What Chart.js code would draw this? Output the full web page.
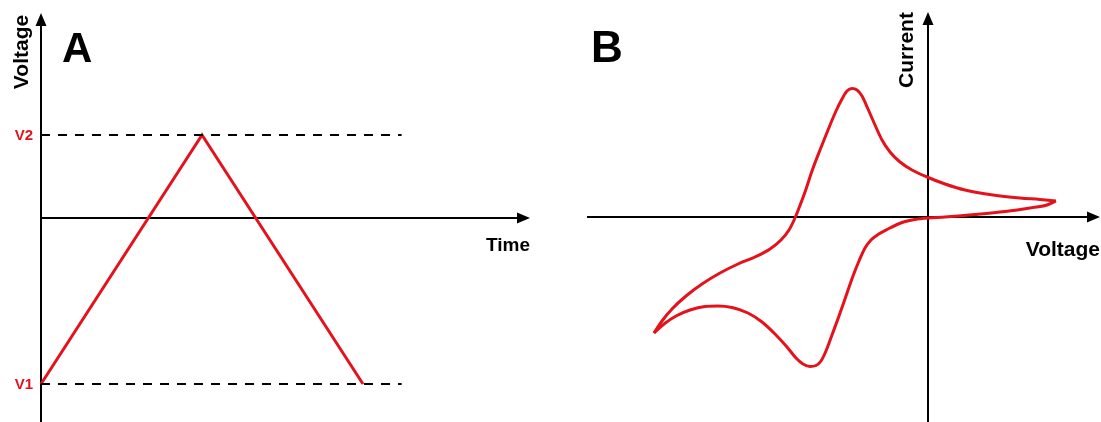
<!DOCTYPE html>
<html>
<head>
<meta charset="utf-8">
<script src="https://cdn.jsdelivr.net/npm/chart.js@4.4.1/dist/chart.umd.min.js"></script>
<style>
  html,body{margin:0;padding:0;background:#fff;}
  #wrap{position:relative;width:1101px;height:422px;overflow:hidden;background:#fff;}
  canvas{position:absolute;top:0;}
  #c-a{left:0;}
  #c-b{left:550px;}
</style>
</head>
<body>
<div id="wrap">
  <canvas id="c-a" width="550" height="422"></canvas>
  <canvas id="c-b" width="551" height="422"></canvas>
</div>
<script>
// panel A: triangular potential sweep
const sweepTime=[0,1,2];
const sweepVolt=[-1,0.5,-1];
const levelNames=['V1','V2'];
const levelVolt=[-1,0.5];
const levelEnd=2.24;

// panel B: cyclic voltammogram, upper (right-to-left) and lower (left-to-right) branches
const upperV=[1.28,1.12,0.92,0.65,0.37,0.17,-0.01,-0.16,-0.28,-0.38,-0.46,-0.53,-0.60,-0.66,-0.71,-0.76,-0.81,-0.86,-0.92,-1.00,-1.08,-1.16,-1.23,-1.29,-1.33,-1.39,-1.47,-1.58,-1.73,-1.90,-2.08,-2.26,-2.42,-2.56,-2.66,-2.74];
const upperI=[0.16,0.175,0.19,0.22,0.27,0.33,0.40,0.47,0.55,0.65,0.77,0.92,1.08,1.21,1.27,1.285,1.26,1.18,1.06,0.87,0.67,0.46,0.25,0.09,-0.01,-0.13,-0.23,-0.32,-0.40,-0.47,-0.56,-0.67,-0.79,-0.92,-1.04,-1.16];
const lowerV=[-2.74,-2.64,-2.52,-2.38,-2.23,-2.10,-1.96,-1.80,-1.66,-1.53,-1.41,-1.32,-1.25,-1.18,-1.12,-1.07,-1.02,-0.96,-0.89,-0.82,-0.75,-0.69,-0.63,-0.57,-0.50,-0.41,-0.26,-0.13,0.00,0.17,0.47,0.77,1.02,1.19,1.28];
const lowerI=[-1.16,-1.07,-0.99,-0.93,-0.895,-0.89,-0.905,-0.96,-1.05,-1.17,-1.30,-1.41,-1.47,-1.495,-1.485,-1.44,-1.34,-1.18,-0.99,-0.79,-0.59,-0.44,-0.31,-0.23,-0.175,-0.125,-0.055,-0.025,-0.01,0.00,0.025,0.055,0.09,0.12,0.16];

const RED='#e3121b';
const FONT='Arial, "Liberation Sans", sans-serif';
const pts=(xs,ys)=>xs.map((v,i)=>({x:v,y:ys[i]}));

// black axes through zero with filled arrowheads
const axesPlugin={
  id:'axes',
  beforeDatasetsDraw(chart,args,o){
    const {ctx,scales:{x,y},chartArea}=chart;
    const x0=x.getPixelForValue(0), y0=y.getPixelForValue(0);
    const xL=x.getPixelForValue(o.xFrom), xT=x.getPixelForValue(o.xTip), yT=y.getPixelForValue(o.yTip);
    ctx.save();
    ctx.strokeStyle='#000'; ctx.fillStyle='#000'; ctx.lineWidth=2;
    ctx.beginPath();
    ctx.moveTo(xL,y0); ctx.lineTo(xT-8,y0);
    ctx.moveTo(x0,chartArea.bottom); ctx.lineTo(x0,yT+8);
    ctx.stroke();
    ctx.beginPath();
    ctx.moveTo(xT,y0); ctx.lineTo(xT-13,y0-5.5); ctx.lineTo(xT-13,y0+5.5); ctx.closePath();
    ctx.moveTo(x0,yT); ctx.lineTo(x0-5.5,yT+13); ctx.lineTo(x0+5.5,yT+13); ctx.closePath();
    ctx.fill();
    ctx.restore();
  }
};

// panel letters, axis names and level tags
const textPlugin={
  id:'texts',
  afterDraw(chart,args,o){
    const {ctx,scales:{x,y}}=chart;
    const x0=x.getPixelForValue(0);
    ctx.save();
    ctx.fillStyle='#000';
    ctx.font=`bold ${o.letterSize}px ${FONT}`; ctx.textAlign='left'; ctx.textBaseline='alphabetic';
    ctx.fillText(o.letter,x0+o.letterDx,62);
    ctx.font=`bold ${o.xNameSize}px ${FONT}`;
    ctx.textAlign='right';
    ctx.fillText(o.xName,o.xNameRight,o.xNameBase);
    ctx.font=`bold 21px ${FONT}`;
    ctx.save();
    ctx.translate(x0+o.yNameDx,o.yNameMid); ctx.rotate(-Math.PI/2);
    ctx.textAlign='center'; ctx.fillText(o.yName,0,0);
    ctx.restore();
    (o.levels||[]).forEach(l=>{
      ctx.fillStyle=RED; ctx.font=`bold 15px ${FONT}`;
      ctx.textAlign='right'; ctx.textBaseline='middle';
      ctx.fillText(l.name,x0-8,y.getPixelForValue(l.v)+1);
    });
    ctx.restore();
  }
};

const baseOpts={
  responsive:false,
  animation:false,
  events:[],
  layout:{padding:0},
  plugins:{legend:{display:false},tooltip:{enabled:false}},
  elements:{point:{radius:0}}
};

new Chart(document.getElementById('c-a'),{
  type:'scatter',
  data:{
    datasets:[
      ...levelVolt.map(v=>({
        data:[{x:0,y:v},{x:levelEnd,y:v}],
        showLine:true, borderColor:'#000', borderWidth:2, borderDash:[9,8], pointRadius:0
      })),
      {data:pts(sweepTime,sweepVolt),showLine:true,borderColor:RED,borderWidth:3,pointRadius:0}
    ]
  },
  options:{
    ...baseOpts,
    scales:{
      x:{type:'linear',display:false,min:-41/161,max:509/161},
      y:{type:'linear',display:false,min:-204/166,max:218/166}
    },
    plugins:{
      ...baseOpts.plugins,
      axes:{xFrom:0,xTip:489/161,yTip:205/166},
      texts:{letter:'A',letterSize:42,letterDx:21,xName:'Time',xNameSize:19,xNameRight:530,xNameBase:251,
        yName:'Voltage',yNameDx:-13,yNameMid:52,
        levels:levelNames.map((n,i)=>({name:n,v:levelVolt[i]}))}
    }
  },
  plugins:[axesPlugin,textPlugin]
});

const cvLine={showLine:true,borderColor:RED,borderWidth:3,cubicInterpolationMode:'monotone',pointRadius:0};

new Chart(document.getElementById('c-b'),{
  type:'scatter',
  data:{
    datasets:[
      {...cvLine,data:pts(upperV,upperI)},
      {...cvLine,data:pts(lowerV,lowerI)}
    ]
  },
  options:{
    ...baseOpts,
    scales:{
      x:{type:'linear',display:false,min:-3.78,max:1.73},
      y:{type:'linear',display:false,min:-2.05,max:2.17}
    },
    plugins:{
      ...baseOpts.plugins,
      axes:{xFrom:-3.41,xTip:1.72,yTip:2.05},
      texts:{letter:'B',letterSize:44,letterDx:-337,xName:'Voltage',xNameSize:21,xNameRight:550,xNameBase:256,
        yName:'Current',yNameDx:-15,yNameMid:50}
    }
  },
  plugins:[axesPlugin,textPlugin]
});
</script>
</body>
</html>
